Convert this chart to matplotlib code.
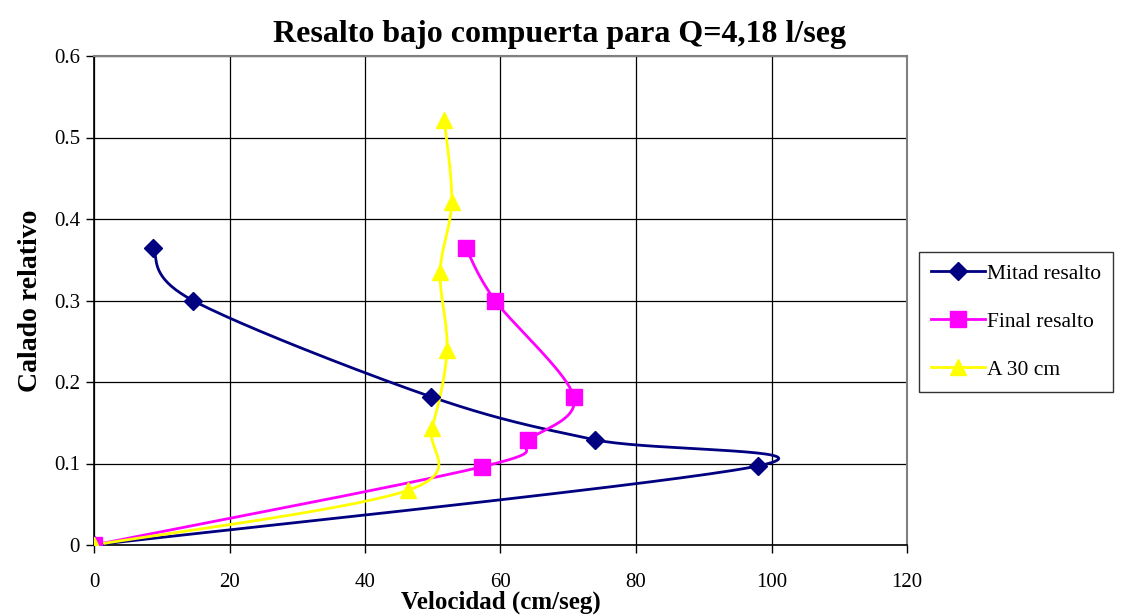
import numpy as np
import matplotlib
matplotlib.use("Agg")
import matplotlib.pyplot as plt

# Velocity (cm/seg) vs relative depth for three measuring sections
mitad_v = [0, 98, 74, 49.7, 14.6, 8.7]
mitad_y = [0, 0.097, 0.129, 0.182, 0.300, 0.364]

final_v = [0, 57.3, 64.1, 70.8, 59.2, 54.9]
final_y = [0, 0.096, 0.129, 0.182, 0.300, 0.364]

a30_v = [0, 46.3, 49.9, 52.1, 51.1, 52.8, 51.7]
a30_y = [0, 0.067, 0.144, 0.239, 0.335, 0.421, 0.521]

labels = ["Mitad resalto", "Final resalto", "A 30 cm"]
colors = ["#000080", "#FF00FF", "#FFFF00"]
markers = ["D", "s", "^"]
msizes = [9, 11, 12]

x_ticks = [0, 20, 40, 60, 80, 100, 120]
y_ticks = [0, 0.1, 0.2, 0.3, 0.4, 0.5, 0.6]


def smooth(xs, ys, n=40):
    """Spreadsheet-style smoothed line: Bezier segments through each point."""
    p = np.column_stack([xs, ys]).astype(float)
    # scale y so tangents are computed in comparable units
    s = np.array([1.0, 200.0])
    q = p * s
    out = []
    t = np.linspace(0, 1, n)[:, None]
    for i in range(len(q) - 1):
        p0 = q[i - 1] if i > 0 else q[i]
        p1, p2 = q[i], q[i + 1]
        p3 = q[i + 2] if i + 2 < len(q) else q[i + 1]
        c1 = p1 + (p2 - p0) / 6.0
        c2 = p2 - (p3 - p1) / 6.0
        seg = ((1 - t) ** 3) * p1 + 3 * ((1 - t) ** 2) * t * c1 \
            + 3 * (1 - t) * t ** 2 * c2 + t ** 3 * p2
        out.append(seg)
    pts = np.vstack(out) / s
    return pts[:, 0], pts[:, 1]


plt.rcParams["font.family"] = ["Liberation Serif", "DejaVu Serif"]

fig = plt.figure(figsize=(11.22, 6.16), dpi=100)
ax = fig.add_axes([94 / 1122, 1 - 545 / 616, (907 - 94) / 1122, (545 - 56) / 616])

series = [(mitad_v, mitad_y), (final_v, final_y), (a30_v, a30_y)]
for (xs, ys), lab, col, mk, ms in zip(series, labels, colors, markers, msizes):
    sx, sy = smooth(xs, ys)
    ax.plot(sx, sy, color=col, lw=2, zorder=3)
    ax.plot(xs, ys, ls="none", marker=mk, color=col, ms=ms, zorder=4)
    ax.plot([], [], color=col, lw=2, marker=mk, ms=ms, label=lab)

ax.set_xlim(0, 120)
ax.set_ylim(0, 0.6)
ax.set_xticks(x_ticks)
ax.set_yticks(y_ticks)
ax.set_xticklabels([str(v) for v in x_ticks])
ax.set_yticklabels(["0" if v == 0 else f"{v:g}" for v in y_ticks])
ax.grid(True, color="black", lw=0.9)
ax.set_axisbelow(True)

for side in ["top", "right"]:
    ax.spines[side].set_color("#808080")
    ax.spines[side].set_linewidth(1.5)
for side in ["left", "bottom"]:
    ax.spines[side].set_color("black")
    ax.spines[side].set_linewidth(1.2)

ax.tick_params(axis="both", direction="out", length=6, width=1, labelsize=15)
ax.tick_params(axis="x", pad=14)
ax.tick_params(axis="y", pad=4)

ax.set_xlabel("Velocidad (cm/seg)", fontsize=18, fontweight="bold", labelpad=-1)
ax.set_ylabel("Calado relativo", fontsize=20, fontweight="bold", labelpad=8)
fig.suptitle("Resalto bajo compuerta para Q=4,18 l/seg", fontsize=23,
             fontweight="bold", x=560 / 1122, y=0.967)

leg = fig.legend(loc="upper left", bbox_to_anchor=(919 / 1122, 1 - 252 / 616),
                 fontsize=15.5, frameon=True, fancybox=False, handlelength=2.5,
                 labelspacing=1.3, borderpad=0.55, borderaxespad=0,
                 handletextpad=0.12)
leg.get_frame().set_edgecolor("black")
leg.get_frame().set_linewidth(1)

fig.savefig("out.png", dpi=100)
